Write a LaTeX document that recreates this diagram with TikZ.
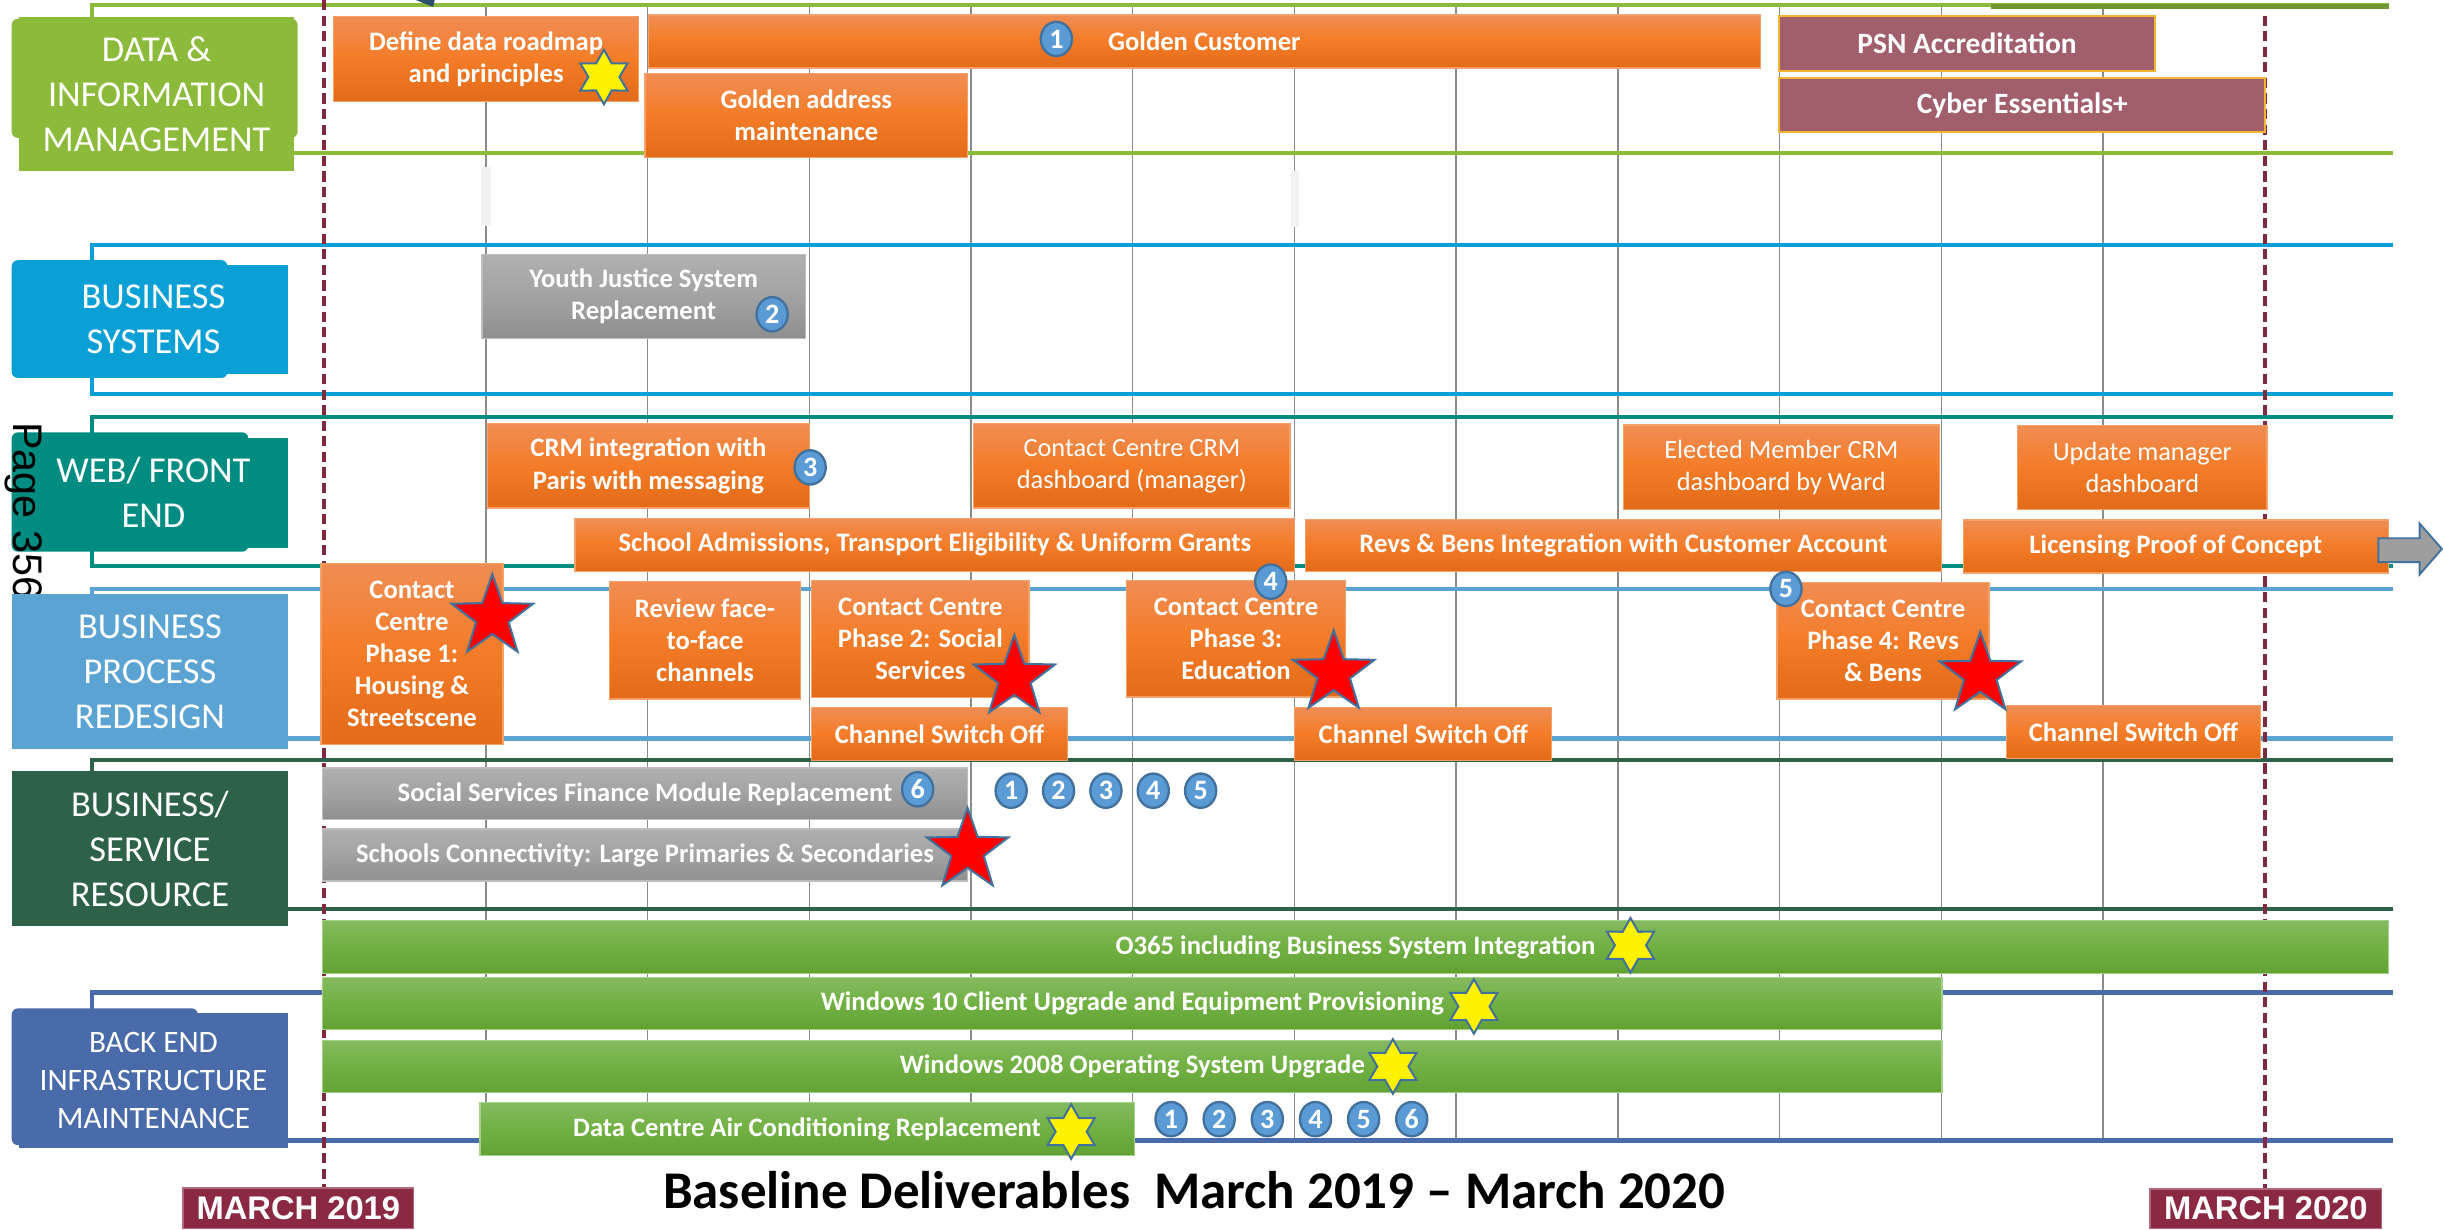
\documentclass[tikz,border=0pt]{standalone}
\usepackage{fontspec}
\setmainfont{Carlito}
\newfontfamily\arialfont{Liberation Sans}
\usepackage{tikz}
\usetikzlibrary{positioning,shapes.geometric}
\definecolor{cData}{HTML}{8CBB3B}
\definecolor{cSys}{HTML}{0AA0D6}
\definecolor{cWeb}{HTML}{008C81}
\definecolor{cBpr}{HTML}{5BA3D2}
\definecolor{cRes}{HTML}{2D6148}
\definecolor{cInfra}{HTML}{4A6BAA}
\definecolor{cGrid}{HTML}{8C8C8C}
\definecolor{cMarch}{HTML}{8B2942}
\definecolor{cMarchLine}{HTML}{7E2B40}
\definecolor{cOrTop}{HTML}{F08D54}
\definecolor{cOrMid}{HTML}{F47C28}
\definecolor{cOrBot}{HTML}{E36A18}
\definecolor{cOrEdge}{HTML}{F5A068}
\definecolor{cGnTop}{HTML}{84BA60}
\definecolor{cGnMid}{HTML}{71B042}
\definecolor{cGnBot}{HTML}{62A134}
\definecolor{cGnEdge}{HTML}{A5D089}
\definecolor{cGyTop}{HTML}{B0B0B0}
\definecolor{cGyMid}{HTML}{A2A2A2}
\definecolor{cGyBot}{HTML}{8F8F8F}
\definecolor{cGyEdge}{HTML}{BDBDBD}
\definecolor{cMauve}{HTML}{A15F6B}
\definecolor{cGold}{HTML}{F2B431}
\definecolor{cBadge}{HTML}{5B9BD5}
\definecolor{cEdgeBlue}{HTML}{41719C}
\newcommand\barbold{\fontsize{17.1}{20.6}\selectfont\bfseries}
\newcommand\barplain{\fontsize{16.9}{20.6}\selectfont}
\newcommand\mauvefont{\fontsize{18.9}{22}\selectfont\bfseries}
\newcommand\lanefont{\fontsize{23.4}{29}\selectfont}
\newcommand\lanesmall{\fontsize{20}{24.5}\selectfont}
\newcommand\badgefont{\fontsize{18}{18}\selectfont\bfseries}
\newcommand\titlefont{\fontsize{34}{40}\selectfont\bfseries}
\newcommand\marchfont{\arialfont\fontsize{21}{22}\selectfont\bfseries}
\newcommand\pagefont{\arialfont\fontsize{26.5}{30}\selectfont}
\tikzset{
  wh/.style 2 args={minimum width=#1pt,minimum height=#2pt},
  lane-box/.style={rectangle,fill=#1,inner sep=0pt,outer sep=0pt,anchor=north west,
    text=white,align=center,font=\lanefont},
  lane-line/.style={draw=#1,line width=2.6pt},
  grid-line/.style={draw=cGrid,line width=0.9pt},
  march-line/.style={draw=cMarchLine,line width=2.4pt,dash pattern=on 6.5pt off 3.5pt},
  bar/.style={rectangle,inner sep=0pt,outer sep=0pt,anchor=north west,align=center,
    text=white,line width=0.8pt},
  bar-orange/.style={bar,draw=cOrEdge,top color=cOrTop,bottom color=cOrBot,
    middle color=cOrMid,font=\barbold},
  bar-orange-plain/.style={bar-orange,font=\barplain},
  bar-green/.style={bar,draw=cGnEdge,top color=cGnTop,bottom color=cGnBot,
    middle color=cGnMid,font=\barbold},
  bar-gray/.style={bar,draw=cGyEdge,top color=cGyTop,bottom color=cGyBot,
    middle color=cGyMid,font=\barbold},
  bar-mauve/.style={bar,draw=cGold,fill=cMauve,line width=1.2pt,font=\mauvefont},
  badge/.style={ellipse,fill=cBadge,draw=cEdgeBlue,line width=1.5pt,
    minimum width=20pt,minimum height=22pt,inner sep=0pt,text=white,font=\badgefont},
  star-red/.style={star,star points=5,star point ratio=2.5,minimum size=55pt,
    inner sep=0pt,fill=red,draw=cEdgeBlue,line width=1.3pt},
  star-yellow/.style={star,star points=6,star point ratio=1.75,minimum size=35pt,
    inner sep=0pt,fill=yellow,draw=cEdgeBlue,line width=1.3pt},
  march-box/.style={rectangle,fill=cMarch,draw=cMarch!70!white,line width=1pt,
    inner sep=0pt,anchor=north west,text=white,font=\marchfont},
}

\begin{document}
\begin{tikzpicture}[x=1pt,y=-1pt]
  \useasboundingbox (0,0) rectangle (1568,789);
  \fill[white] (0,0) rectangle (1568,789);

  % month grid
  \foreach \k in {1,...,11}
    \draw[grid-line] ({208+103.8*\k},3) -- ({208+103.8*\k},733);
  \fill[white!95!black] (309,107) rectangle (315,145);
  \fill[white!95!black] (828.5,110) rectangle (833.5,145.5);

  % lane brackets
  \draw[lane-line=cData] (59,12) -- (59,3.2) -- (1533,3.2);
  \draw[draw=cData!80!black,line width=3pt] (1278,4) -- (1533,4);
  \draw[lane-line=cData] (189,98) -- (1536,98);
  \draw[lane-line=cSys] (59,167) -- (59,157.4) -- (1536,157.4);
  \draw[lane-line=cSys] (59,242) -- (59,252.6) -- (1536,252.6);
  \draw[lane-line=cWeb] (59,278) -- (59,267.4) -- (1536,267.4);
  \draw[lane-line=cWeb] (59,353) -- (59,363.5) -- (1536,363.5);
  \draw[lane-line=cBpr] (59,381) -- (59,378) -- (1536,378);
  \draw[lane-line=cBpr] (185,474) -- (1536,474);
  \draw[lane-line=cRes] (59,495) -- (59,488) -- (1536,488);
  \draw[lane-line=cRes] (185,583.6) -- (1536,583.6);
  \draw[lane-line=cInfra] (59,648) -- (59,637) -- (1536,637);
  \draw[lane-line=cInfra] (185,732) -- (1536,732);
  \fill[fill=cEdgeBlue!70!black] (267,0) -- (279,0) -- (278,4.5) -- cycle;

  % milestones
  \draw[march-line] (208,0) -- (208,762);
  \draw[march-line] (1453.6,10) -- (1453.6,762.5);

  % lane labels
  \fill[cData,rounded corners=4pt] (7.5,12) rectangle (191,88.5);
  \node[lane-box=cData,wh={177}{99.4}] (lbl-data) at (12,10.6)
    {DATA \&\\INFORMATION\\MANAGEMENT};
  \fill[cSys,rounded corners=4pt] (7.5,167) rectangle (146,242.6);
  \node[lane-box=cSys,wh={173}{70.2}] (lbl-sys) at (12,169.8)
    {BUSINESS\\SYSTEMS};
  \fill[cWeb,rounded corners=4pt] (7.5,277.5) rectangle (159.4,354.1);
  \node[lane-box=cWeb,wh={173}{70.5}] (lbl-web) at (12,281)
    {WEB/ FRONT\\END};
  \node[anchor=base west,rotate=-90,font=\pagefont] (page) at (8.5,267.5) {Page 356};
  \node[lane-box=cBpr,wh={177.5}{100}] (lbl-bpr) at (7.5,381)
    {BUSINESS\\PROCESS\\REDESIGN};
  \node[lane-box=cRes,wh={177.5}{99.4}] (lbl-res) at (7.5,495)
    {BUSINESS/\\SERVICE\\RESOURCE};
  \fill[cInfra,rounded corners=4pt] (7.5,647.2) rectangle (127,735);
  \node[lane-box=cInfra,font=\lanesmall,wh={173}{86.6}] (lbl-infra) at (12,650.4)
    {BACK END\\INFRASTRUCTURE\\MAINTENANCE};

  % data & information management
  \node[bar-orange,wh={196}{54.4}] (roadmap) at (214,10.6) {Define data roadmap\\and principles};
  \node[star-yellow] (roadmap-star) at (387.6,49.4) {};
  \node[bar-orange,wh={714}{34}] (golden-cust) at (416,9.6) {Golden Customer};
  \node[badge] (golden-cust-n) at (678,25) {1};
  \node[bar-orange,wh={207}{54}] (golden-addr) at (414,47) {Golden address\\maintenance};
  \node[bar-mauve,wh={241}{35.6}] (psn) at (1142,10) {PSN Accreditation};
  \node[bar-mauve,wh={312}{35}] (cyber) at (1142,50) {Cyber Essentials+};

  % business systems
  \node[bar-gray,wh={207.4}{54}] (yjs) at (309.4,163.4) {Youth Justice System\\Replacement};
  \node[badge] (yjs-n) at (495.6,201.7) {2};

  % web / front end
  \node[bar-orange,wh={206.7}{54}] (crm-paris) at (312.8,272) {CRM integration with\\Paris with messaging};
  \node[badge] (crm-paris-n) at (520,300) {3};
  \node[bar-orange-plain,wh={203}{54}] (cc-dash) at (625,272) {Contact Centre CRM\\dashboard (manager)};
  \node[bar-orange-plain,wh={202.6}{54}] (member-dash) at (1042,272.8) {Elected Member CRM\\dashboard by Ward};
  \node[bar-orange-plain,wh={160}{54}] (mgr-dash) at (1295,273) {Update manager\\dashboard};
  \node[bar-orange,wh={462}{34}] (school-adm) at (369,332.6) {School Admissions, Transport Eligibility \& Uniform Grants};
  \node[bar-orange,wh={408}{33.5}] (revs-int) at (838,333.5) {Revs \& Bens Integration with Customer Account};
  \node[bar-orange,wh={273}{34.1}] (licensing) at (1260,333.7) {Licensing Proof of Concept};
  \filldraw[fill=cGyTop!90!black,draw=cEdgeBlue,line width=1.2pt]
    (1526.5,345.5) -- (1553,345.5) -- (1553,336) -- (1567.3,352.3)
    -- (1553,368.7) -- (1553,360.8) -- (1526.5,360.8) -- cycle;

  % business process redesign
  \node[bar-orange,wh={116.8}{116.1}] (cc1) at (206,361.5) {Contact\\Centre\\Phase 1:\\Housing \&\\Streetscene};
  \node[star-red] (cc1-star) at (316,396) {};
  \node[bar-orange,wh={123}{75.4}] (review) at (391,373.3) {Review face-\\to-face\\channels};
  \node[bar-orange,wh={139.5}{75.1}] (cc2) at (521,372.7) {Contact Centre\\Phase 2: Social\\Services};
  \node[bar-orange,wh={164}{34}] (cso1) at (521,454) {Channel Switch Off};
  \node[star-red] (cc2-star) at (651,435) {};
  \node[bar-orange,wh={140.6}{74.8}] (cc3) at (723,372.6) {Contact Centre\\Phase 3:\\Education};
  \node[badge] (cc3-n) at (815.6,373.3) {4};
  \node[bar-orange,wh={165}{34}] (cso2) at (831,454) {Channel Switch Off};
  \node[star-red] (cc3-star) at (856,432) {};
  \node[bar-orange,wh={136}{74.7}] (cc4) at (1140.6,374) {Contact Centre\\Phase 4: Revs\\\& Bens};
  \node[badge] (cc4-n) at (1146.3,378) {5};
  \node[bar-orange,wh={163.4}{33.6}] (cso3) at (1287.6,453) {Channel Switch Off};
  \node[star-red] (cc4-star) at (1271,433) {};

  % business / service resource
  \node[bar-gray,wh={414}{33}] (ssfm) at (207,493) {Social Services Finance Module Replacement};
  \node[badge] (ssfm-n) at (589,506.6) {6};
  \node[bar-gray,wh={414}{33.5}] (schools) at (207,532) {Schools Connectivity: Large Primaries \& Secondaries};
  \node[star-red] (schools-star) at (621,546) {};
  \foreach \n [count=\i from 0] in {1,...,5}
    \node[badge] (res-n\n) at ({649+30.4*\i},507.5) {\n};

  % back end infrastructure maintenance
  \node[bar-green,wh={1326}{33.6}] (o365) at (207,591) {O365 including Business System Integration};
  \node[star-yellow] (o365-star) at (1046.5,606.7) {};
  \node[bar-green,wh={1039.5}{33.5}] (win10) at (207,627.5) {Windows 10 Client Upgrade and Equipment Provisioning};
  \node[star-yellow] (win10-star) at (946,646) {};
  \node[bar-green,wh={1039.5}{33.4}] (win2008) at (207,668) {Windows 2008 Operating System Upgrade};
  \node[star-yellow] (win2008-star) at (894,684.5) {};
  \node[bar-green,wh={420}{34.1}] (aircon) at (308,707.7) {Data Centre Air Conditioning Replacement};
  \node[star-yellow] (aircon-star) at (687.5,726.3) {};
  \foreach \n [count=\i from 0] in {1,...,6}
    \node[badge] (infra-n\n) at ({751.6+30.9*\i},718.3) {\n};

  % milestones and title
  \node[march-box,wh={148}{26}] (march19) at (117,762) {MARCH 2019};
  \node[march-box,wh={148.4}{25.5}] (march20) at (1379.6,762.5) {MARCH 2020};
  \node[anchor=base,font=\titlefont] (title) at (766.5,775.5)
    {Baseline Deliverables\ \ March 2019 – March 2020};
\end{tikzpicture}
\end{document}
